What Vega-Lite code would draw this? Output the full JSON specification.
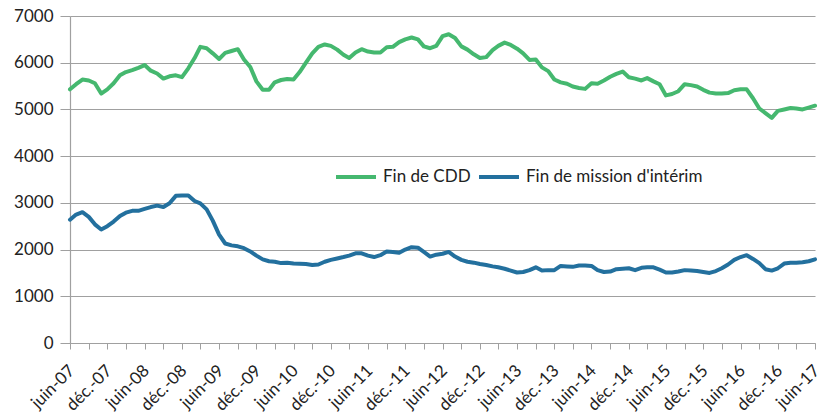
{
  "$schema": "https://vega.github.io/schema/vega-lite/v6.json",
  "width": 745,
  "height": 327,
  "autosize": {"type": "none"},
  "padding": {"left": 70, "top": 16, "right": 6, "bottom": 71},
  "background": "white",
  "config": {
    "view": {"stroke": null},
    "font": "Lato",
    "axis": {"labelFont": "Lato", "labelColor": "#222222", "domainColor": "#a0a0a0", "tickColor": "#a0a0a0", "gridColor": "#a0a0a0"},
    "legend": {"labelFont": "Lato"}
  },
  "data": {
    "values": [
      {"mois":"2007-06-01","serie":"Fin de CDD","valeur":5430},{"mois":"2007-07-01","serie":"Fin de CDD","valeur":5540},{"mois":"2007-08-01","serie":"Fin de CDD","valeur":5640},{"mois":"2007-09-01","serie":"Fin de CDD","valeur":5620},{"mois":"2007-10-01","serie":"Fin de CDD","valeur":5560},{"mois":"2007-11-01","serie":"Fin de CDD","valeur":5340},{"mois":"2007-12-01","serie":"Fin de CDD","valeur":5430},
      {"mois":"2008-01-01","serie":"Fin de CDD","valeur":5560},{"mois":"2008-02-01","serie":"Fin de CDD","valeur":5730},{"mois":"2008-03-01","serie":"Fin de CDD","valeur":5800},{"mois":"2008-04-01","serie":"Fin de CDD","valeur":5840},{"mois":"2008-05-01","serie":"Fin de CDD","valeur":5890},{"mois":"2008-06-01","serie":"Fin de CDD","valeur":5950},{"mois":"2008-07-01","serie":"Fin de CDD","valeur":5830},{"mois":"2008-08-01","serie":"Fin de CDD","valeur":5770},{"mois":"2008-09-01","serie":"Fin de CDD","valeur":5660},{"mois":"2008-10-01","serie":"Fin de CDD","valeur":5710},{"mois":"2008-11-01","serie":"Fin de CDD","valeur":5730},{"mois":"2008-12-01","serie":"Fin de CDD","valeur":5690},
      {"mois":"2009-01-01","serie":"Fin de CDD","valeur":5880},{"mois":"2009-02-01","serie":"Fin de CDD","valeur":6100},{"mois":"2009-03-01","serie":"Fin de CDD","valeur":6340},{"mois":"2009-04-01","serie":"Fin de CDD","valeur":6310},{"mois":"2009-05-01","serie":"Fin de CDD","valeur":6200},{"mois":"2009-06-01","serie":"Fin de CDD","valeur":6080},{"mois":"2009-07-01","serie":"Fin de CDD","valeur":6210},{"mois":"2009-08-01","serie":"Fin de CDD","valeur":6250},{"mois":"2009-09-01","serie":"Fin de CDD","valeur":6290},{"mois":"2009-10-01","serie":"Fin de CDD","valeur":6070},{"mois":"2009-11-01","serie":"Fin de CDD","valeur":5910},{"mois":"2009-12-01","serie":"Fin de CDD","valeur":5600},
      {"mois":"2010-01-01","serie":"Fin de CDD","valeur":5420},{"mois":"2010-02-01","serie":"Fin de CDD","valeur":5420},{"mois":"2010-03-01","serie":"Fin de CDD","valeur":5580},{"mois":"2010-04-01","serie":"Fin de CDD","valeur":5630},{"mois":"2010-05-01","serie":"Fin de CDD","valeur":5650},{"mois":"2010-06-01","serie":"Fin de CDD","valeur":5640},{"mois":"2010-07-01","serie":"Fin de CDD","valeur":5800},{"mois":"2010-08-01","serie":"Fin de CDD","valeur":6000},{"mois":"2010-09-01","serie":"Fin de CDD","valeur":6200},{"mois":"2010-10-01","serie":"Fin de CDD","valeur":6340},{"mois":"2010-11-01","serie":"Fin de CDD","valeur":6390},{"mois":"2010-12-01","serie":"Fin de CDD","valeur":6360},
      {"mois":"2011-01-01","serie":"Fin de CDD","valeur":6280},{"mois":"2011-02-01","serie":"Fin de CDD","valeur":6170},{"mois":"2011-03-01","serie":"Fin de CDD","valeur":6100},{"mois":"2011-04-01","serie":"Fin de CDD","valeur":6220},{"mois":"2011-05-01","serie":"Fin de CDD","valeur":6290},{"mois":"2011-06-01","serie":"Fin de CDD","valeur":6240},{"mois":"2011-07-01","serie":"Fin de CDD","valeur":6220},{"mois":"2011-08-01","serie":"Fin de CDD","valeur":6220},{"mois":"2011-09-01","serie":"Fin de CDD","valeur":6330},{"mois":"2011-10-01","serie":"Fin de CDD","valeur":6340},{"mois":"2011-11-01","serie":"Fin de CDD","valeur":6440},{"mois":"2011-12-01","serie":"Fin de CDD","valeur":6500},
      {"mois":"2012-01-01","serie":"Fin de CDD","valeur":6540},{"mois":"2012-02-01","serie":"Fin de CDD","valeur":6500},{"mois":"2012-03-01","serie":"Fin de CDD","valeur":6350},{"mois":"2012-04-01","serie":"Fin de CDD","valeur":6310},{"mois":"2012-05-01","serie":"Fin de CDD","valeur":6360},{"mois":"2012-06-01","serie":"Fin de CDD","valeur":6570},{"mois":"2012-07-01","serie":"Fin de CDD","valeur":6610},{"mois":"2012-08-01","serie":"Fin de CDD","valeur":6530},{"mois":"2012-09-01","serie":"Fin de CDD","valeur":6350},{"mois":"2012-10-01","serie":"Fin de CDD","valeur":6280},{"mois":"2012-11-01","serie":"Fin de CDD","valeur":6180},{"mois":"2012-12-01","serie":"Fin de CDD","valeur":6100},
      {"mois":"2013-01-01","serie":"Fin de CDD","valeur":6120},{"mois":"2013-02-01","serie":"Fin de CDD","valeur":6270},{"mois":"2013-03-01","serie":"Fin de CDD","valeur":6360},{"mois":"2013-04-01","serie":"Fin de CDD","valeur":6430},{"mois":"2013-05-01","serie":"Fin de CDD","valeur":6380},{"mois":"2013-06-01","serie":"Fin de CDD","valeur":6300},{"mois":"2013-07-01","serie":"Fin de CDD","valeur":6200},{"mois":"2013-08-01","serie":"Fin de CDD","valeur":6060},{"mois":"2013-09-01","serie":"Fin de CDD","valeur":6070},{"mois":"2013-10-01","serie":"Fin de CDD","valeur":5900},{"mois":"2013-11-01","serie":"Fin de CDD","valeur":5820},{"mois":"2013-12-01","serie":"Fin de CDD","valeur":5640},
      {"mois":"2014-01-01","serie":"Fin de CDD","valeur":5580},{"mois":"2014-02-01","serie":"Fin de CDD","valeur":5550},{"mois":"2014-03-01","serie":"Fin de CDD","valeur":5490},{"mois":"2014-04-01","serie":"Fin de CDD","valeur":5460},{"mois":"2014-05-01","serie":"Fin de CDD","valeur":5440},{"mois":"2014-06-01","serie":"Fin de CDD","valeur":5560},{"mois":"2014-07-01","serie":"Fin de CDD","valeur":5550},{"mois":"2014-08-01","serie":"Fin de CDD","valeur":5620},{"mois":"2014-09-01","serie":"Fin de CDD","valeur":5700},{"mois":"2014-10-01","serie":"Fin de CDD","valeur":5760},{"mois":"2014-11-01","serie":"Fin de CDD","valeur":5810},{"mois":"2014-12-01","serie":"Fin de CDD","valeur":5690},
      {"mois":"2015-01-01","serie":"Fin de CDD","valeur":5660},{"mois":"2015-02-01","serie":"Fin de CDD","valeur":5620},{"mois":"2015-03-01","serie":"Fin de CDD","valeur":5670},{"mois":"2015-04-01","serie":"Fin de CDD","valeur":5600},{"mois":"2015-05-01","serie":"Fin de CDD","valeur":5540},{"mois":"2015-06-01","serie":"Fin de CDD","valeur":5300},{"mois":"2015-07-01","serie":"Fin de CDD","valeur":5330},{"mois":"2015-08-01","serie":"Fin de CDD","valeur":5390},{"mois":"2015-09-01","serie":"Fin de CDD","valeur":5540},{"mois":"2015-10-01","serie":"Fin de CDD","valeur":5520},{"mois":"2015-11-01","serie":"Fin de CDD","valeur":5490},{"mois":"2015-12-01","serie":"Fin de CDD","valeur":5420},
      {"mois":"2016-01-01","serie":"Fin de CDD","valeur":5360},{"mois":"2016-02-01","serie":"Fin de CDD","valeur":5340},{"mois":"2016-03-01","serie":"Fin de CDD","valeur":5340},{"mois":"2016-04-01","serie":"Fin de CDD","valeur":5350},{"mois":"2016-05-01","serie":"Fin de CDD","valeur":5410},{"mois":"2016-06-01","serie":"Fin de CDD","valeur":5430},{"mois":"2016-07-01","serie":"Fin de CDD","valeur":5430},{"mois":"2016-08-01","serie":"Fin de CDD","valeur":5240},{"mois":"2016-09-01","serie":"Fin de CDD","valeur":5020},{"mois":"2016-10-01","serie":"Fin de CDD","valeur":4920},{"mois":"2016-11-01","serie":"Fin de CDD","valeur":4820},{"mois":"2016-12-01","serie":"Fin de CDD","valeur":4970},
      {"mois":"2017-01-01","serie":"Fin de CDD","valeur":5000},{"mois":"2017-02-01","serie":"Fin de CDD","valeur":5030},{"mois":"2017-03-01","serie":"Fin de CDD","valeur":5020},{"mois":"2017-04-01","serie":"Fin de CDD","valeur":5000},{"mois":"2017-05-01","serie":"Fin de CDD","valeur":5040},{"mois":"2017-06-01","serie":"Fin de CDD","valeur":5080},
      {"mois":"2007-06-01","serie":"Fin de mission d'intérim","valeur":2640},{"mois":"2007-07-01","serie":"Fin de mission d'intérim","valeur":2750},{"mois":"2007-08-01","serie":"Fin de mission d'intérim","valeur":2800},{"mois":"2007-09-01","serie":"Fin de mission d'intérim","valeur":2700},{"mois":"2007-10-01","serie":"Fin de mission d'intérim","valeur":2540},{"mois":"2007-11-01","serie":"Fin de mission d'intérim","valeur":2430},{"mois":"2007-12-01","serie":"Fin de mission d'intérim","valeur":2500},
      {"mois":"2008-01-01","serie":"Fin de mission d'intérim","valeur":2600},{"mois":"2008-02-01","serie":"Fin de mission d'intérim","valeur":2720},{"mois":"2008-03-01","serie":"Fin de mission d'intérim","valeur":2790},{"mois":"2008-04-01","serie":"Fin de mission d'intérim","valeur":2830},{"mois":"2008-05-01","serie":"Fin de mission d'intérim","valeur":2830},{"mois":"2008-06-01","serie":"Fin de mission d'intérim","valeur":2870},{"mois":"2008-07-01","serie":"Fin de mission d'intérim","valeur":2910},{"mois":"2008-08-01","serie":"Fin de mission d'intérim","valeur":2940},{"mois":"2008-09-01","serie":"Fin de mission d'intérim","valeur":2910},{"mois":"2008-10-01","serie":"Fin de mission d'intérim","valeur":2990},{"mois":"2008-11-01","serie":"Fin de mission d'intérim","valeur":3150},{"mois":"2008-12-01","serie":"Fin de mission d'intérim","valeur":3160},
      {"mois":"2009-01-01","serie":"Fin de mission d'intérim","valeur":3160},{"mois":"2009-02-01","serie":"Fin de mission d'intérim","valeur":3040},{"mois":"2009-03-01","serie":"Fin de mission d'intérim","valeur":2990},{"mois":"2009-04-01","serie":"Fin de mission d'intérim","valeur":2860},{"mois":"2009-05-01","serie":"Fin de mission d'intérim","valeur":2620},{"mois":"2009-06-01","serie":"Fin de mission d'intérim","valeur":2320},{"mois":"2009-07-01","serie":"Fin de mission d'intérim","valeur":2130},{"mois":"2009-08-01","serie":"Fin de mission d'intérim","valeur":2090},{"mois":"2009-09-01","serie":"Fin de mission d'intérim","valeur":2070},{"mois":"2009-10-01","serie":"Fin de mission d'intérim","valeur":2030},{"mois":"2009-11-01","serie":"Fin de mission d'intérim","valeur":1960},{"mois":"2009-12-01","serie":"Fin de mission d'intérim","valeur":1870},
      {"mois":"2010-01-01","serie":"Fin de mission d'intérim","valeur":1790},{"mois":"2010-02-01","serie":"Fin de mission d'intérim","valeur":1750},{"mois":"2010-03-01","serie":"Fin de mission d'intérim","valeur":1740},{"mois":"2010-04-01","serie":"Fin de mission d'intérim","valeur":1710},{"mois":"2010-05-01","serie":"Fin de mission d'intérim","valeur":1720},{"mois":"2010-06-01","serie":"Fin de mission d'intérim","valeur":1700},{"mois":"2010-07-01","serie":"Fin de mission d'intérim","valeur":1695},{"mois":"2010-08-01","serie":"Fin de mission d'intérim","valeur":1690},{"mois":"2010-09-01","serie":"Fin de mission d'intérim","valeur":1670},{"mois":"2010-10-01","serie":"Fin de mission d'intérim","valeur":1680},{"mois":"2010-11-01","serie":"Fin de mission d'intérim","valeur":1740},{"mois":"2010-12-01","serie":"Fin de mission d'intérim","valeur":1780},
      {"mois":"2011-01-01","serie":"Fin de mission d'intérim","valeur":1810},{"mois":"2011-02-01","serie":"Fin de mission d'intérim","valeur":1840},{"mois":"2011-03-01","serie":"Fin de mission d'intérim","valeur":1870},{"mois":"2011-04-01","serie":"Fin de mission d'intérim","valeur":1920},{"mois":"2011-05-01","serie":"Fin de mission d'intérim","valeur":1920},{"mois":"2011-06-01","serie":"Fin de mission d'intérim","valeur":1870},{"mois":"2011-07-01","serie":"Fin de mission d'intérim","valeur":1840},{"mois":"2011-08-01","serie":"Fin de mission d'intérim","valeur":1880},{"mois":"2011-09-01","serie":"Fin de mission d'intérim","valeur":1960},{"mois":"2011-10-01","serie":"Fin de mission d'intérim","valeur":1950},{"mois":"2011-11-01","serie":"Fin de mission d'intérim","valeur":1930},{"mois":"2011-12-01","serie":"Fin de mission d'intérim","valeur":2000},
      {"mois":"2012-01-01","serie":"Fin de mission d'intérim","valeur":2050},{"mois":"2012-02-01","serie":"Fin de mission d'intérim","valeur":2040},{"mois":"2012-03-01","serie":"Fin de mission d'intérim","valeur":1950},{"mois":"2012-04-01","serie":"Fin de mission d'intérim","valeur":1850},{"mois":"2012-05-01","serie":"Fin de mission d'intérim","valeur":1890},{"mois":"2012-06-01","serie":"Fin de mission d'intérim","valeur":1910},{"mois":"2012-07-01","serie":"Fin de mission d'intérim","valeur":1950},{"mois":"2012-08-01","serie":"Fin de mission d'intérim","valeur":1850},{"mois":"2012-09-01","serie":"Fin de mission d'intérim","valeur":1780},{"mois":"2012-10-01","serie":"Fin de mission d'intérim","valeur":1740},{"mois":"2012-11-01","serie":"Fin de mission d'intérim","valeur":1720},{"mois":"2012-12-01","serie":"Fin de mission d'intérim","valeur":1690},
      {"mois":"2013-01-01","serie":"Fin de mission d'intérim","valeur":1670},{"mois":"2013-02-01","serie":"Fin de mission d'intérim","valeur":1640},{"mois":"2013-03-01","serie":"Fin de mission d'intérim","valeur":1620},{"mois":"2013-04-01","serie":"Fin de mission d'intérim","valeur":1590},{"mois":"2013-05-01","serie":"Fin de mission d'intérim","valeur":1550},{"mois":"2013-06-01","serie":"Fin de mission d'intérim","valeur":1510},{"mois":"2013-07-01","serie":"Fin de mission d'intérim","valeur":1520},{"mois":"2013-08-01","serie":"Fin de mission d'intérim","valeur":1560},{"mois":"2013-09-01","serie":"Fin de mission d'intérim","valeur":1620},{"mois":"2013-10-01","serie":"Fin de mission d'intérim","valeur":1550},{"mois":"2013-11-01","serie":"Fin de mission d'intérim","valeur":1560},{"mois":"2013-12-01","serie":"Fin de mission d'intérim","valeur":1560},
      {"mois":"2014-01-01","serie":"Fin de mission d'intérim","valeur":1650},{"mois":"2014-02-01","serie":"Fin de mission d'intérim","valeur":1640},{"mois":"2014-03-01","serie":"Fin de mission d'intérim","valeur":1630},{"mois":"2014-04-01","serie":"Fin de mission d'intérim","valeur":1660},{"mois":"2014-05-01","serie":"Fin de mission d'intérim","valeur":1660},{"mois":"2014-06-01","serie":"Fin de mission d'intérim","valeur":1650},{"mois":"2014-07-01","serie":"Fin de mission d'intérim","valeur":1560},{"mois":"2014-08-01","serie":"Fin de mission d'intérim","valeur":1520},{"mois":"2014-09-01","serie":"Fin de mission d'intérim","valeur":1530},{"mois":"2014-10-01","serie":"Fin de mission d'intérim","valeur":1580},{"mois":"2014-11-01","serie":"Fin de mission d'intérim","valeur":1590},{"mois":"2014-12-01","serie":"Fin de mission d'intérim","valeur":1600},
      {"mois":"2015-01-01","serie":"Fin de mission d'intérim","valeur":1560},{"mois":"2015-02-01","serie":"Fin de mission d'intérim","valeur":1610},{"mois":"2015-03-01","serie":"Fin de mission d'intérim","valeur":1620},{"mois":"2015-04-01","serie":"Fin de mission d'intérim","valeur":1620},{"mois":"2015-05-01","serie":"Fin de mission d'intérim","valeur":1570},{"mois":"2015-06-01","serie":"Fin de mission d'intérim","valeur":1510},{"mois":"2015-07-01","serie":"Fin de mission d'intérim","valeur":1510},{"mois":"2015-08-01","serie":"Fin de mission d'intérim","valeur":1530},{"mois":"2015-09-01","serie":"Fin de mission d'intérim","valeur":1560},{"mois":"2015-10-01","serie":"Fin de mission d'intérim","valeur":1550},{"mois":"2015-11-01","serie":"Fin de mission d'intérim","valeur":1540},{"mois":"2015-12-01","serie":"Fin de mission d'intérim","valeur":1520},
      {"mois":"2016-01-01","serie":"Fin de mission d'intérim","valeur":1500},{"mois":"2016-02-01","serie":"Fin de mission d'intérim","valeur":1540},{"mois":"2016-03-01","serie":"Fin de mission d'intérim","valeur":1600},{"mois":"2016-04-01","serie":"Fin de mission d'intérim","valeur":1680},{"mois":"2016-05-01","serie":"Fin de mission d'intérim","valeur":1780},{"mois":"2016-06-01","serie":"Fin de mission d'intérim","valeur":1840},{"mois":"2016-07-01","serie":"Fin de mission d'intérim","valeur":1880},{"mois":"2016-08-01","serie":"Fin de mission d'intérim","valeur":1800},{"mois":"2016-09-01","serie":"Fin de mission d'intérim","valeur":1710},{"mois":"2016-10-01","serie":"Fin de mission d'intérim","valeur":1580},{"mois":"2016-11-01","serie":"Fin de mission d'intérim","valeur":1550},{"mois":"2016-12-01","serie":"Fin de mission d'intérim","valeur":1600},
      {"mois":"2017-01-01","serie":"Fin de mission d'intérim","valeur":1700},{"mois":"2017-02-01","serie":"Fin de mission d'intérim","valeur":1720},{"mois":"2017-03-01","serie":"Fin de mission d'intérim","valeur":1720},{"mois":"2017-04-01","serie":"Fin de mission d'intérim","valeur":1730},{"mois":"2017-05-01","serie":"Fin de mission d'intérim","valeur":1750},{"mois":"2017-06-01","serie":"Fin de mission d'intérim","valeur":1790}
    ]
  },
  "mark": {"type": "line", "strokeWidth": 4, "strokeJoin": "round", "strokeCap": "round"},
  "encoding": {
    "x": {
      "field": "mois",
      "type": "temporal",
      "scale": {"type": "utc", "domain": [{"year": 2007, "month": 6, "date": 1, "utc": true}, {"year": 2017, "month": 6, "date": 1, "utc": true}]},
      "axis": {
        "title": null,
        "grid": false,
        "values": [
          {"year":2007,"month":6,"date":1,"utc":true},{"year":2007,"month":9,"date":1,"utc":true},{"year":2007,"month":12,"date":1,"utc":true},
          {"year":2008,"month":3,"date":1,"utc":true},{"year":2008,"month":6,"date":1,"utc":true},{"year":2008,"month":9,"date":1,"utc":true},{"year":2008,"month":12,"date":1,"utc":true},
          {"year":2009,"month":3,"date":1,"utc":true},{"year":2009,"month":6,"date":1,"utc":true},{"year":2009,"month":9,"date":1,"utc":true},{"year":2009,"month":12,"date":1,"utc":true},
          {"year":2010,"month":3,"date":1,"utc":true},{"year":2010,"month":6,"date":1,"utc":true},{"year":2010,"month":9,"date":1,"utc":true},{"year":2010,"month":12,"date":1,"utc":true},
          {"year":2011,"month":3,"date":1,"utc":true},{"year":2011,"month":6,"date":1,"utc":true},{"year":2011,"month":9,"date":1,"utc":true},{"year":2011,"month":12,"date":1,"utc":true},
          {"year":2012,"month":3,"date":1,"utc":true},{"year":2012,"month":6,"date":1,"utc":true},{"year":2012,"month":9,"date":1,"utc":true},{"year":2012,"month":12,"date":1,"utc":true},
          {"year":2013,"month":3,"date":1,"utc":true},{"year":2013,"month":6,"date":1,"utc":true},{"year":2013,"month":9,"date":1,"utc":true},{"year":2013,"month":12,"date":1,"utc":true},
          {"year":2014,"month":3,"date":1,"utc":true},{"year":2014,"month":6,"date":1,"utc":true},{"year":2014,"month":9,"date":1,"utc":true},{"year":2014,"month":12,"date":1,"utc":true},
          {"year":2015,"month":3,"date":1,"utc":true},{"year":2015,"month":6,"date":1,"utc":true},{"year":2015,"month":9,"date":1,"utc":true},{"year":2015,"month":12,"date":1,"utc":true},
          {"year":2016,"month":3,"date":1,"utc":true},{"year":2016,"month":6,"date":1,"utc":true},{"year":2016,"month":9,"date":1,"utc":true},{"year":2016,"month":12,"date":1,"utc":true},
          {"year":2017,"month":3,"date":1,"utc":true},{"year":2017,"month":6,"date":1,"utc":true}
        ],
        "labelExpr": "utcmonth(datum.value) == 5 ? 'juin-' + utcFormat(datum.value, '%y') : (utcmonth(datum.value) == 11 ? 'déc.-' + utcFormat(datum.value, '%y') : '')",
        "labelAngle": -45,
        "labelFontSize": 17,
        "labelPadding": 13,
        "labelOffset": -4,
        "labelOverlap": false,
        "labelFlush": false,
        "labelBound": false,
        "tickSize": 6,
        "domainWidth": 1.2
      }
    },
    "y": {
      "field": "valeur",
      "type": "quantitative",
      "scale": {"domain": [0, 7000], "nice": false, "zero": true},
      "axis": {
        "title": null,
        "values": [0, 1000, 2000, 3000, 4000, 5000, 6000, 7000],
        "format": "d",
        "labelFontSize": 17,
        "labelPadding": 7,
        "tickSize": 10,
        "gridWidth": 1.2,
        "domainWidth": 1.2
      }
    },
    "color": {
      "field": "serie",
      "type": "nominal",
      "scale": {"domain": ["Fin de CDD", "Fin de mission d'intérim"], "range": ["#45b86f", "#23709e"]},
      "legend": {
        "title": null,
        "orient": "none",
        "legendX": 264,
        "legendY": 139,
        "direction": "horizontal",
        "symbolType": "stroke",
        "symbolSize": 1600,
        "symbolStrokeWidth": 4,
        "labelFontSize": 17,
        "labelColor": "#222222",
        "labelOffset": 5,
        "columnPadding": 0,
        "labelLimit": 300
      }
    }
  }
}
